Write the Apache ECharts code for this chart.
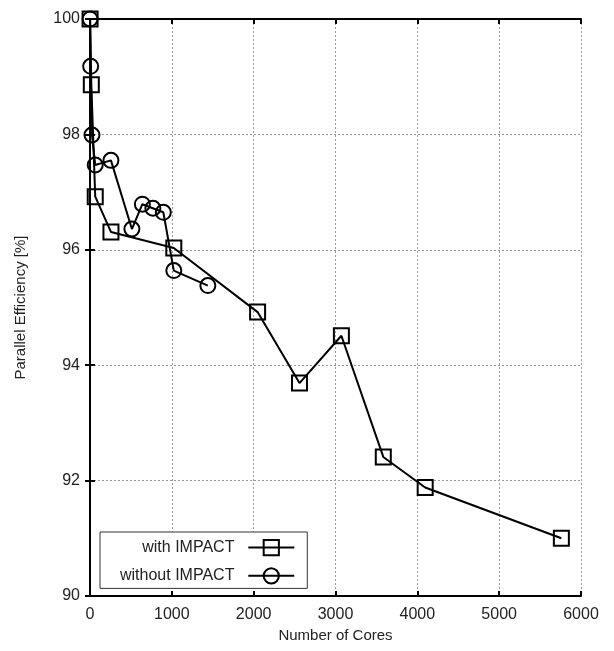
<!DOCTYPE html>
<html>
<head>
<meta charset="utf-8">
<script src="https://cdn.jsdelivr.net/npm/echarts@6/dist/echarts.min.js"></script>
<style>
  html, body { margin: 0; padding: 0; background: #fff; }
  #chart { width: 614px; height: 651px; }
</style>
</head>
<body>
<div id="chart"></div>
<script>
;(function() {
    // cores / efficiency
    var withCores = [1, 16, 64, 256, 1024, 2048, 2560, 3072, 3584, 4096, 5760];
    var withEff = [100, 98.86, 96.92, 96.31, 96.03, 94.92, 93.69, 94.51, 92.41, 91.88, 91.0];
    var withoutCores = [1, 8, 24, 64, 256, 512, 640, 768, 896, 1024, 1440];
    var withoutEff = [100, 99.18, 97.99, 97.47, 97.55, 96.36, 96.79, 96.72, 96.65, 95.64, 95.38];
    var seriesNames = ['with IMPACT', 'without IMPACT'];

    var font = 'Liberation Sans';
    var txt = '#222';

    function pairs(xs, ys) {
        return xs.map(function(x, i) { return [x, ys[i]]; });
    }

    var gridLine = { show: true, lineStyle: { color: '#999', type: [2, 2], width: 1 } };
    var axisLine = { show: true, lineStyle: { color: '#000', width: 2 } };
    var tick = { show: true, inside: true, length: 5, lineStyle: { color: '#000', width: 2 } };

    var markerStyle = {
        color: 'rgba(255,255,255,0)',
        borderColor: '#000',
        borderWidth: 2
    };

    var chart = echarts.init(document.getElementById('chart'));
    chart.setOption({
        animation: false,
        backgroundColor: '#fff',
        textStyle: { fontFamily: font },
        grid: { left: 90, right: 33, top: 19, bottom: 55 },
        xAxis: [{
            type: 'value',
            min: 0, max: 6000, interval: 1000,
            name: 'Number of Cores',
            nameLocation: 'middle',
            nameGap: 25,
            nameTextStyle: { fontSize: 15, color: txt, fontFamily: font },
            axisLine: axisLine,
            axisTick: tick,
            splitLine: gridLine,
            axisLabel: {
                fontSize: 16, color: txt, margin: 11, fontFamily: font,
                formatter: function(v) { return String(v); }
            }
        }, {
            type: 'value', position: 'top',
            min: 0, max: 6000, interval: 1000,
            axisLine: axisLine,
            axisTick: tick,
            splitLine: { show: false },
            axisLabel: { show: false }
        }],
        yAxis: [{
            type: 'value',
            min: 90, max: 100, interval: 2,
            name: 'Parallel Efficiency [%]',
            nameLocation: 'middle',
            nameGap: 62,
            nameTextStyle: { fontSize: 15, color: txt, fontFamily: font },
            axisLine: axisLine,
            axisTick: tick,
            splitLine: gridLine,
            axisLabel: { fontSize: 16, color: txt, margin: 10, fontFamily: font }
        }, {
            type: 'value', position: 'right',
            min: 90, max: 100, interval: 2,
            axisLine: axisLine,
            axisTick: tick,
            splitLine: { show: false },
            axisLabel: { show: false }
        }],
        legend: {
            orient: 'vertical',
            left: 100,
            top: 532,
            align: 'right',
            data: seriesNames,
            itemWidth: 46,
            itemHeight: 19,
            itemGap: 11,
            padding: [7, 12, 4, 20],
            borderColor: '#333',
            borderWidth: 1,
            backgroundColor: '#fff',
            formatter: function(name) { return name + '  '; },
            textStyle: { fontSize: 16, color: txt, fontFamily: font }
        },
        series: [{
            name: seriesNames[0],
            type: 'line',
            data: pairs(withCores, withEff),
            symbol: 'rect',
            symbolSize: 15,
            lineStyle: { color: '#000', width: 2 },
            itemStyle: markerStyle,
            z: 3
        }, {
            name: seriesNames[1],
            type: 'line',
            data: pairs(withoutCores, withoutEff),
            symbol: 'circle',
            symbolSize: 15,
            lineStyle: { color: '#000', width: 2 },
            itemStyle: markerStyle,
            z: 3
        }]
    });
})();
</script>
</body>
</html>
